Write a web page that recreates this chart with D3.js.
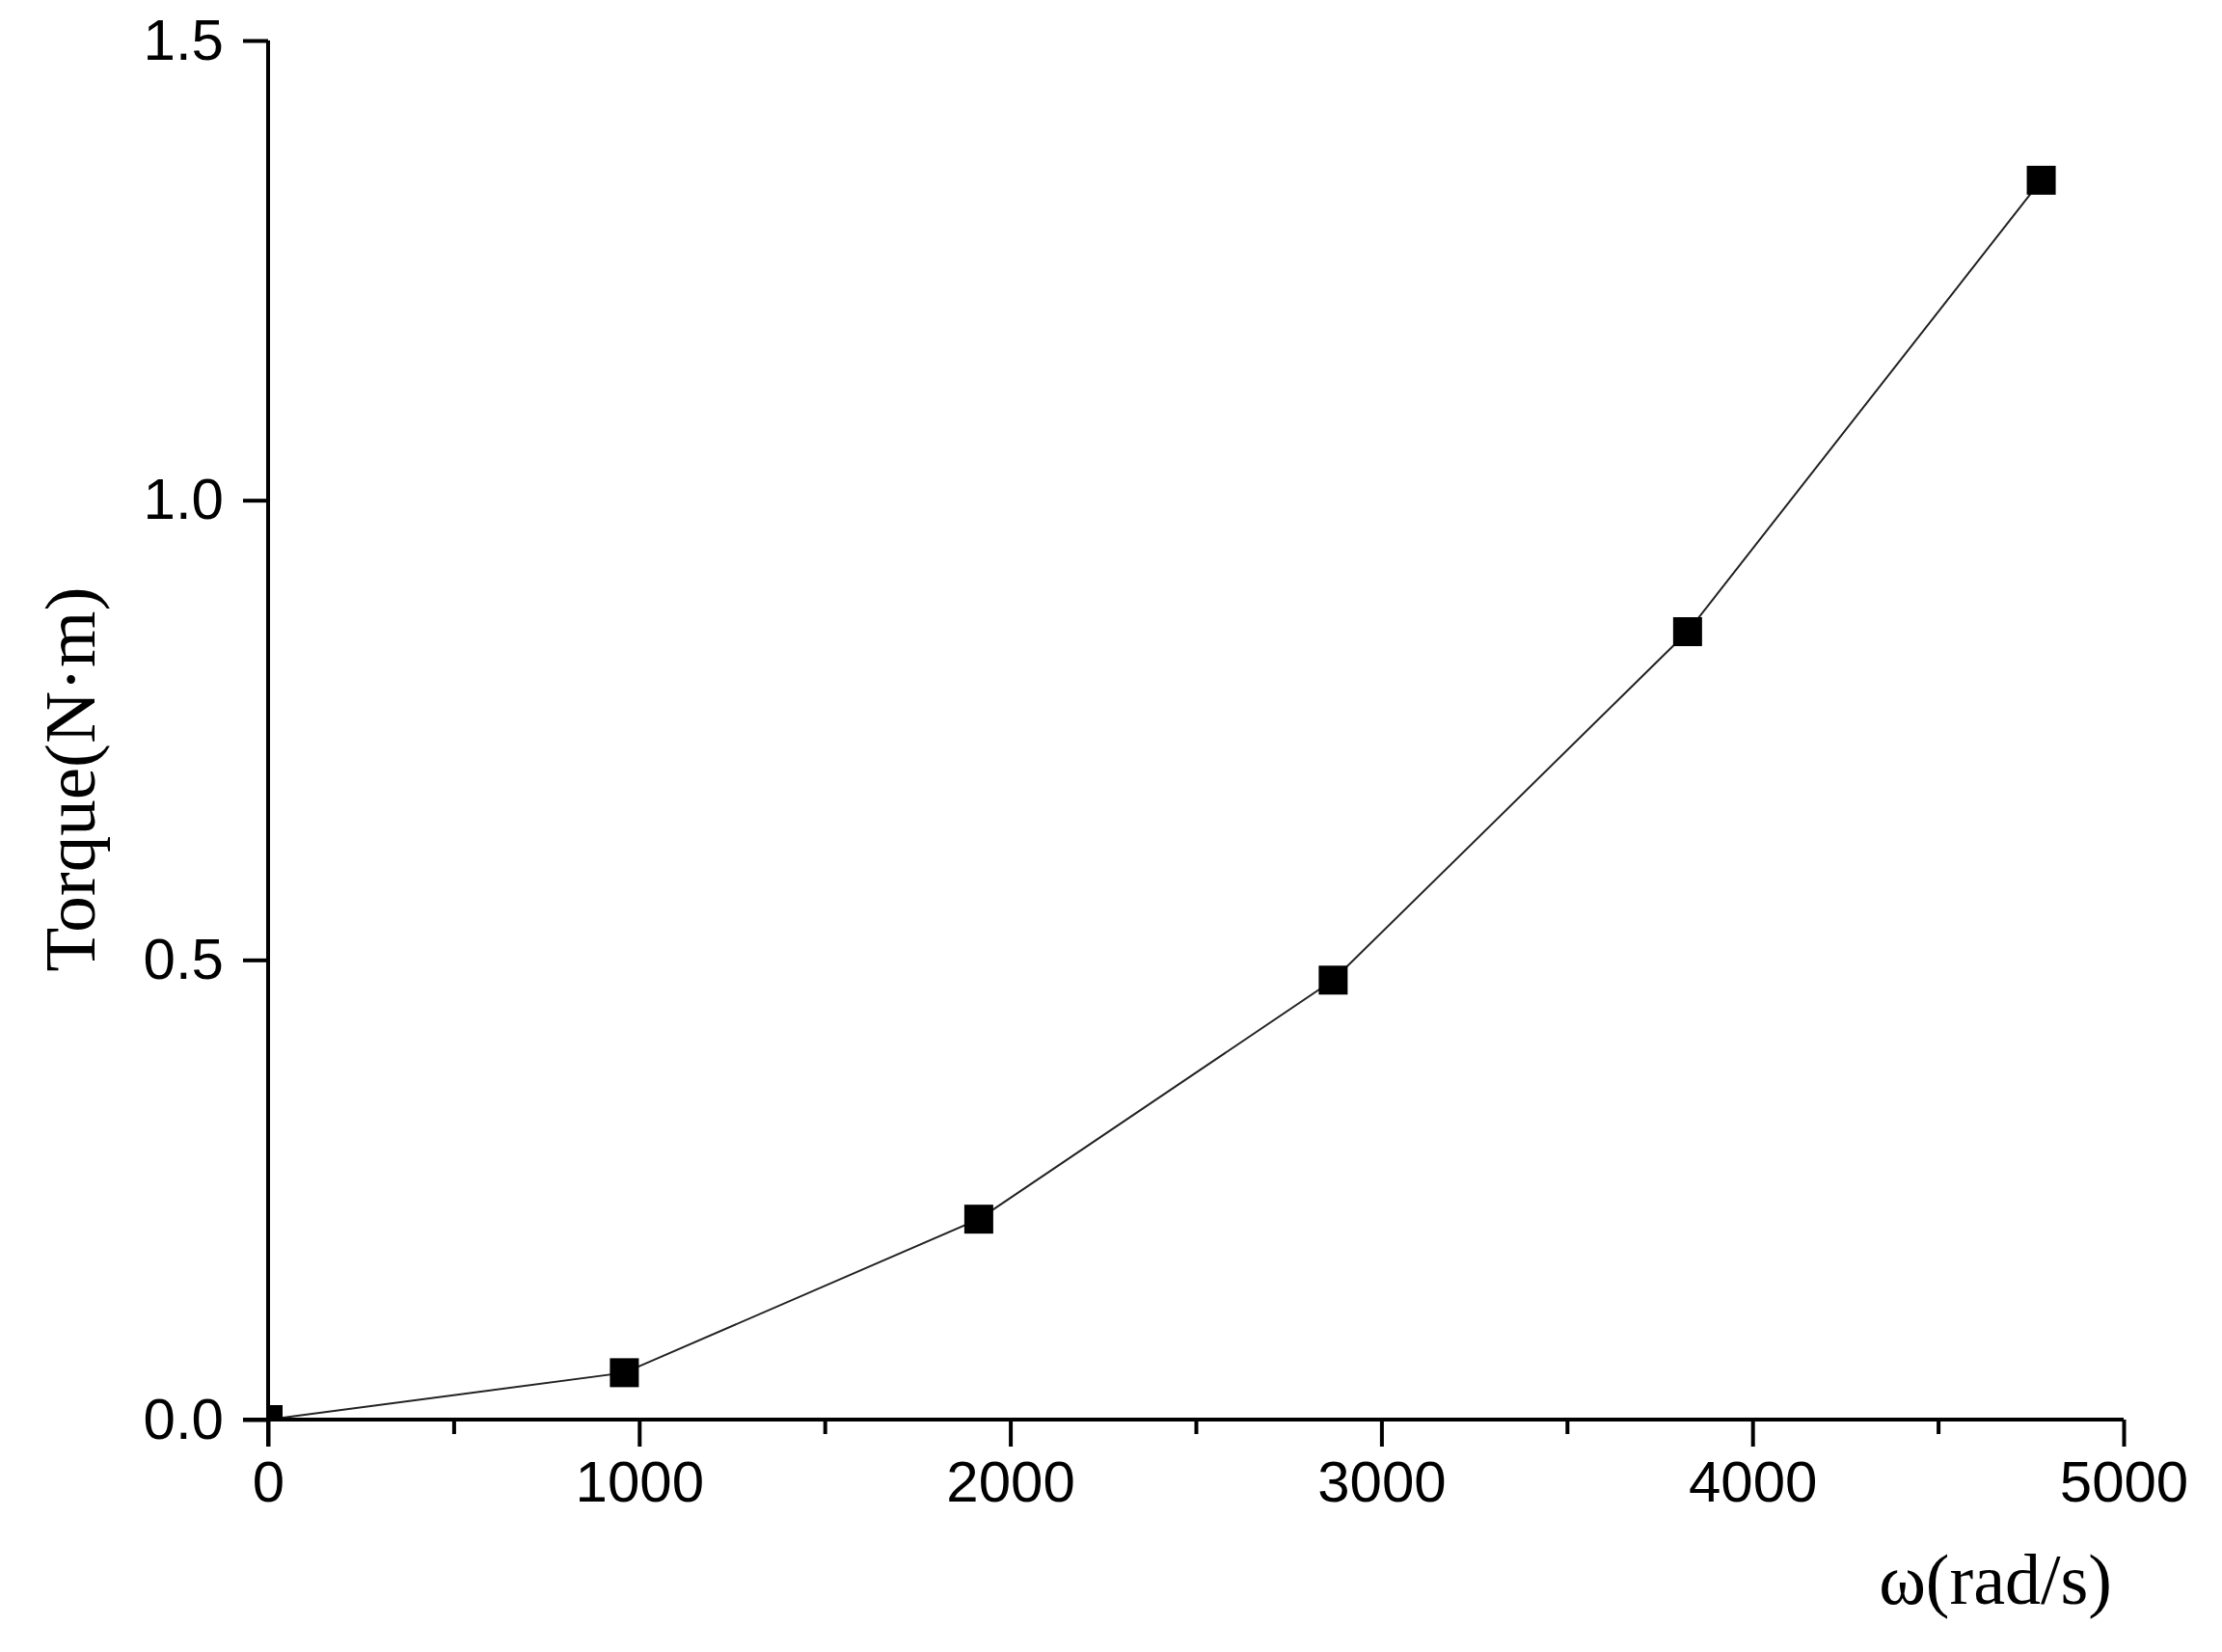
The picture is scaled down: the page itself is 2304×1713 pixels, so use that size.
<!DOCTYPE html>
<html><head><meta charset="utf-8">
<script src="https://cdn.jsdelivr.net/npm/d3@7"></script>
<style>body{margin:0;background:#fff}svg{display:block}</style>
</head><body>
<script>
const omega = [0, 960, 1915, 2870, 3825, 4778];
const torque = [0, 0.051, 0.218, 0.478, 0.857, 1.348];
const xTicks = [0, 1000, 2000, 3000, 4000, 5000];
const xMinor = [500, 1500, 2500, 3500, 4500];
const yTicks = [0.0, 0.5, 1.0, 1.5];
const xTitle = "ω(rad/s)";
const yTitle = "Torque(N·m)";

const W = 2304, H = 1713;
const svg = d3.select("body").append("svg").attr("width", W).attr("height", H);
const x = d3.scaleLinear().domain([0, 5000]).range([278, 2202]);
const y = d3.scaleLinear().domain([0, 1.5]).range([1472, 42]);

svg.append("defs").append("clipPath").attr("id", "plot")
  .append("rect").attr("x", x(0)).attr("y", y(1.5) - 40)
  .attr("width", x(5000) - x(0) + 40).attr("height", y(0) - y(1.5) + 40);

const plot = svg.append("g").attr("clip-path", "url(#plot)");
const line = d3.line().x((d, i) => x(omega[i])).y(d => y(d));
plot.append("path").datum(torque).attr("d", line).attr("fill", "none").attr("stroke", "#222").attr("stroke-width", 2);

const s = 30;
plot.selectAll("rect.pt").data(torque).enter().append("rect").attr("class", "pt")
  .attr("x", (d, i) => x(omega[i]) - s/2).attr("y", d => y(d) - s/2)
  .attr("width", s).attr("height", s).attr("fill", "#000");

const xAxis = d3.axisBottom(x).tickValues(xTicks).tickFormat(d3.format("d")).tickSize(28).tickSizeOuter(0).tickPadding(14);
const gx = svg.append("g").attr("transform", `translate(0,${y(0)})`).call(xAxis);
const xm = d3.axisBottom(x).tickValues(xMinor).tickFormat("").tickSize(15).tickSizeOuter(0);
svg.append("g").attr("transform", `translate(0,${y(0)})`).call(xm).select(".domain").remove();

const yAxis = d3.axisLeft(y).tickValues(yTicks).tickFormat(d3.format(".1f")).tickSize(26).tickSizeOuter(0).tickPadding(20);
const gy = svg.append("g").attr("transform", `translate(${x(0)},0)`).call(yAxis);

svg.selectAll(".domain").attr("stroke", "#000").attr("stroke-width", 4);
svg.selectAll(".tick line").attr("stroke", "#000").attr("stroke-width", 4);
svg.selectAll(".tick text").attr("font-family", "Liberation Sans, Arial, sans-serif").attr("font-size", 60).attr("fill", "#000");
gx.select(".domain").attr("d", `M${x(0)-26},0H${x(5000)}`);
gy.select(".domain").attr("d", `M0,${y(0)+28}V${y(1.5)}`);

svg.append("text").attr("x", 2190).attr("y", 1663).attr("text-anchor", "end")
  .attr("font-family", "Liberation Serif, Times New Roman, serif").attr("font-size", 74).text(xTitle);
svg.append("text").attr("transform", "translate(98,808) rotate(-90)").attr("text-anchor", "middle")
  .attr("font-family", "Liberation Serif, Times New Roman, serif").attr("font-size", 75).text(yTitle);
</script>
</body></html>
